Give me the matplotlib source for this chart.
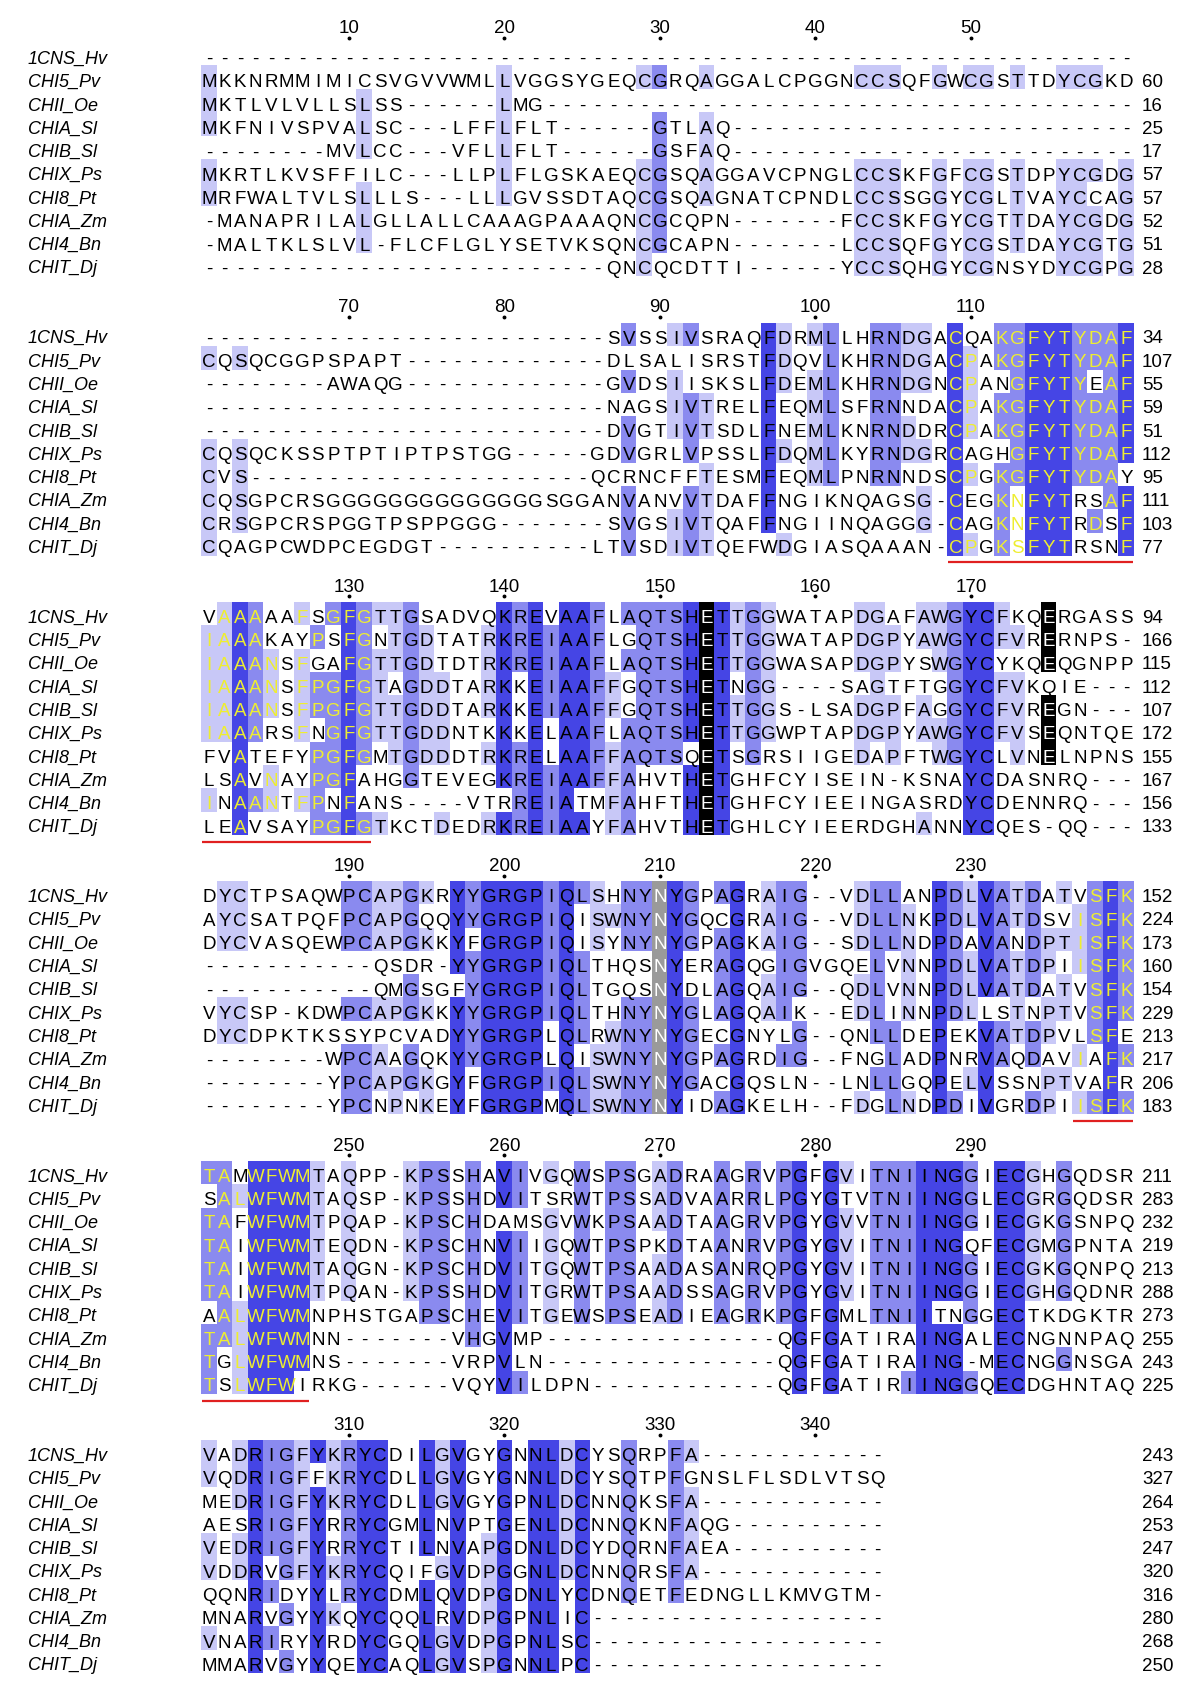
import numpy as np
import matplotlib
matplotlib.use("Agg")
import matplotlib.pyplot as plt
from matplotlib.colors import to_rgb
from matplotlib.transforms import blended_transform_factory

names = ["1CNS_Hv", "CHI5_Pv", "CHII_Oe", "CHIA_Sl", "CHIB_Sl",
         "CHIX_Ps", "CHI8_Pt", "CHIA_Zm", "CHI4_Bn", "CHIT_Dj"]

# alignment, one list per block of 60 columns
block1 = [
    "-" * 60,
    "MKKNRMMIMICSVGVVWMLLVGGSYGEQCGRQAGGALCPGGNCCSQFGWCGSTTDYCGKD",
    "MKTLVLVLLSLSS------LMG" + "-" * 38,
    "MKFNIVSPVALSC---LFFLFLT------GTLAQ" + "-" * 26,
    "--------MVLCC---VFLLFLT------GSFAQ" + "-" * 26,
    "MKRTLKVSFFILC---LLPLFLGSKAEQCGSQAGGAVCPNGLCCSKFGFCGSTDPYCGDG",
    "MRFWALTVLSLLLS---LLLGVSSDTAQCGSQAGNATCPNDLCCSSGGYCGLTVAYCCAG",
    "-MANAPRILALGLLALLCAAAGPAAAQNCGCQPN-------FCCSKFGYCGTTDAYCGDG",
    "-MALTKLSLVL-FLCFLGLYSETVKSQNCGCAPN-------LCCSQFGYCGSTDAYCGTG",
    "-" * 26 + "QNCQCDTTI------YCCSQHGYCGNSYDYCGPG",
]
block2 = [
    "-" * 26 + "SVSSIVSRAQFDRMLLHRNDGACQAKGFYTYDAF",
    "CQSQCGGPSPAPT" + "-" * 13 + "DLSALISRSTFDQVLKHRNDGACPAKGFYTYDAF",
    "-" * 8 + "AWAQG" + "-" * 13 + "GVDSIISKSLFDEMLKHRNDGNCPANGFYTYEAF",
    "-" * 26 + "NAGSIVTRELFEQMLSFRNNDACPAKGFYTYDAF",
    "-" * 26 + "DVGTIVTSDLFNEMLKNRNDDRCPAKGFYTYDAF",
    "CQSQCKSSPTPTIPTPSTGG-----GDVGRLVPSSLFDQMLKYRNDGRCAGHGFYTYDAF",
    "CVS" + "-" * 22 + "QCRNCFFTESMFEQMLPNRNNDSCPGKGFYTYDAY",
    "CQSGPCRS" + "G" * 14 + "SGGANVANVVTDAFFNGIKNQAGSG-CEGKNFYTRSAF",
    "CRSGPCRSPGGTPSPPGGG-------SVGSIVTQAFFNGIINQAGGG-CAGKNFYTRDSF",
    "CQAGPCWDPCEGDGT----------LTVSDIVTQEFWDGIASQAAAN-CPGKSFYTRSNF",
]
block3 = [
    "VAAAAAFSGFGTTGSADVQKREVAAFLAQTSHETTGGWATAPDGAFAWGYCFKQERGASS",
    "IAAAKAYPSFGNTGDTATRKREIAAFLGQTSHETTGGWATAPDGPYAWGYCFVRERNPS-",
    "IAAANSFGAFGTTGDTDTRKREIAAFLAQTSHETTGGWASAPDGPYSWGYCYKQEQGNPP",
    "IAAANSFPGFGTAGDDTARKKEIAAFFGQTSHETNGG----SAGTFTGGYCFVKQIE---",
    "IAAANSFPGFGTTGDDTARKKEIAAFFGQTSHETTGGS-LSADGPFAGGYCFVREGN---",
    "IAAARSFNGFGTTGDDNTKKKELAAFLAQTSHETTGGWPTAPDGPYAWGYCFVSEQNTQE",
    "FVATEFYPGFGMTGDDDTRKRELAAFFAQTSQETSGRSIIGEDAPFTWGYCLVNELNPNS",
    "LSAVNAYPGFAHGGTEVEGKREIAAFFAHVTHETGHFCYISEIN-KSNAYCDASNRQ---",
    "INAANTFPNFANS----VTRREIATMFAHFTHETGHFCYIEEINGASRDYCDENNRQ---",
    "LEAVSAYPGFGTKCTDEDRKREIAAYFAHVTHETGHLCYIEERDGHANNYCQES-QQ---",
]
block4 = [
    "DYCTPSAQWPCAPGKRYYGRGPIQLSHNYNYGPAGRAIG--VDLLANPDLVATDATVSFK",
    "AYCSATPQFPCAPGQQYYGRGPIQISWNYNYGQCGRAIG--VDLLNKPDLVATDSVISFK",
    "DYCVASQEWPCAPGKKYFGRGPIQISYNYNYGPAGKAIG--SDLLNDPDAVANDPTISFK",
    "-----------QSDR-YYGRGPIQLTHQSNYERAGQGIGVGQELVNNPDLVATDPIISFK",
    "-----------QMGSGFYGRGPIQLTGQSNYDLAGQAIG--QDLVNNPDLVATDATVSFK",
    "VYCSP-KDWPCAPGKKYYGRGPIQLTHNYNYGLAGQAIK--EDLINNPDLLSTNPTVSFK",
    "DYCDPKTKSSYPCVADYYGRGPLQLRWNYNYGECGNYLG--QNLLDEPEKVATDPVLSFE",
    "--------WPCAAGQKYYGRGPLQISWNYNYGPAGRDIG--FNGLADPNRVAQDAVIAFK",
    "--------YPCAPGKGYFGRGPIQLSWNYNYGACGQSLN--LNLLGQPELVSSNPTVAFR",
    "--------YPCNPNKEYFGRGPMQLSWNYNYIDAGKELH--FDGLNDPDIVGRDPIISFK",
]
block5 = [
    "TAMWFWMTAQPP-KPSSHAVIVGQWSPSGADRAAGRVPGFGVITNIINGGIECGHGQDSR",
    "SALWFWMTAQSP-KPSSHDVITSRWTPSSADVAARRLPGYGTVTNIINGGLECGRGQDSR",
    "TAFWFWMTPQAP-KPSCHDAMSGVWKPSAADTAAGRVPGYGVVTNIINGGIECGKGSNPQ",
    "TAIWFWMTEQDN-KPSCHNVIIGQWTPSPKDTAANRVPGYGVITNIINGQFECGMGPNTA",
    "TAIWFWMTAQGN-KPSCHDVITGQWTPSAADASANRQPGYGVITNIINGGIECGKGQNPQ",
    "TAIWFWMTPQAN-KPSSHDVITGRWTPSAADSSAGRVPGYGVITNIINGGIECGHGQDNR",
    "AALWFWMNPHSTGAPSCHEVITGEWSPSEADIEAGRKPGFGMLTNIITNGGECTKDGKTR",
    "TALWFWMNN-------VHGVMP---------------QGFGATIRAINGALECNGNNPAQ",
    "TGLWFWMNS-------VRPVLN---------------QGFGATIRAING-MECNGGNSGA",
    "TSLWFWIRKG------VQYVILDPN------------QGFGATIRIINGGQECDGHNTAQ",
]
block6 = [
    "VADRIGFYKRYCDILGVGYGNNLDCYSQRPFA" + "-" * 12,
    "VQDRIGFFKRYCDLLGVGYGNNLDCYSQTPFGNSLFLSDLVTSQ",
    "MEDRIGFYKRYCDLLGVGYGPNLDCNNQKSFA" + "-" * 12,
    "AESRIGFYRRYCGMLNVPTGENLDCNNQKNFAQG" + "-" * 10,
    "VEDRIGFYRRYCTILNVAPGDNLDCYDQRNFAEA" + "-" * 10,
    "VDDRVGFYKRYCQIFGVDPGGNLDCNNQRSFA" + "-" * 12,
    "QQNRIDYYLRYCDMLQVDPGDNLYCDNQETFEDNGLLKMVGTM-",
    "MNARVGYYKQYCQQLRVDPGPNLIC" + "-" * 19,
    "VNARIRYYRDYCGQLGVDPGPNLSC" + "-" * 19,
    "MMARVGYYQEYCAQLGVSPGNNLPC" + "-" * 19,
]
blocks = [block1, block2, block3, block4, block5, block6]

# motif residues printed in yellow (first column, allowed residues per column)
motif_start = [109, 121, 237, 241]
motif_res = [
    ["C", "P", "", "K", "GNS", "F", "Y", "T", "Y", "D", "A", "F"],
    ["I", "A", "A", "A", "N", "", "F", "P", "G", "F", "G"],
    ["I", "S", "F", "K"],
    ["T", "A", "L", "W", "F", "W", "M"],
]
black_cols = [153, 175]   # boxed E
grey_cols = [210]         # boxed N

shade = {3: "#4545E5", 2: "#8A8AEF", 1: "#C8C8F7"}
yellow = "#EEEE30"

seqs = ["".join(b[i] for b in blocks) for i in range(len(names))]
nseq = len(seqs)
ncols_total = len(seqs[0])

# percentage identity to the column consensus
cons = []
level = []
for c in range(ncols_total):
    col = [s[c] for s in seqs]
    counts = {}
    for ch in col:
        if ch != "-":
            counts[ch] = counts.get(ch, 0) + 1
    if not counts:
        cons.append(None); level.append(0); continue
    top = max(counts.values())
    win = [k for k, v in counts.items() if v == top]
    if len(win) > 1:
        cons.append(None); level.append(0); continue
    frac = top / nseq
    cons.append(win[0])
    level.append(3 if frac > 0.8 else 2 if frac > 0.6 else 1 if frac > 0.4 else 0)

yellow_set = set()
for st, allowed in zip(motif_start, motif_res):
    for k, a in enumerate(allowed):
        for i, s in enumerate(seqs):
            ch = s[st - 1 + k]
            if ch != "-" and a and ch in a:
                yellow_set.add((i, st + k))

W, H = 1200, 1699
fig = plt.figure(figsize=(W / 100, H / 100), dpi=100)
fig.patch.set_facecolor("white")

col_w = 15.55
row_h = 23.3
left_px = 201.2
block_pitch = 279.4
top0 = 44.15

fs_res = 13.5
fs_name = 13
fs_num = 13.5

counts_so_far = [0] * nseq
start = 1
for b, blk in enumerate(blocks):
    ncol = len(blk[0])
    top_px = top0 + b * block_pitch
    ax = fig.add_axes([left_px / W, 1 - (top_px + 10 * row_h) / H,
                       60 * col_w / W, 10 * row_h / H])
    ax.set_xlim(0.5, 60.5)
    ax.set_ylim(10.5, 0.5)
    ax.axis("off")

    img = np.ones((nseq, ncol, 3))
    txtcol = [["black"] * ncol for _ in range(nseq)]
    for i in range(nseq):
        for j in range(ncol):
            c = start + j
            ch = blk[i][j]
            if ch == "-":
                continue
            if c in black_cols and ch == "E":
                img[i, j] = 0, 0, 0
                txtcol[i][j] = "white"
            elif c in grey_cols and ch == "N":
                img[i, j] = to_rgb("#9A9A9A")
                txtcol[i][j] = "white"
            elif cons[c - 1] == ch and level[c - 1] > 0:
                img[i, j] = to_rgb(shade[level[c - 1]])
            if (i, c) in yellow_set:
                txtcol[i][j] = yellow
    ax.imshow(img, extent=(0.5, ncol + 0.5, nseq + 0.5, 0.5),
              aspect="auto", interpolation="nearest")

    for i in range(nseq):
        for j in range(ncol):
            ax.text(j + 1, i + 1 + 0.36, blk[i][j], ha="center", va="baseline",
                    fontsize=fs_res, family="Liberation Sans",
                    color=txtcol[i][j], clip_on=False)

    trans = blended_transform_factory(fig.transFigure, ax.transData)
    for i in range(nseq):
        ax.text(28 / W, i + 1 + 0.34, names[i], ha="left", va="baseline",
                fontsize=fs_name, family="Liberation Sans", style="italic",
                transform=trans, clip_on=False)
        n = sum(1 for ch in blk[i] if ch != "-")
        counts_so_far[i] += n
        if n > 0:
            ax.text(1142 / W, i + 1 + 0.35, str(counts_so_far[i]), ha="left",
                    va="baseline", fontsize=fs_num, family="Liberation Sans",
                    transform=trans, clip_on=False)

    # column ruler
    for j in range(ncol - 1):
        c = start + j
        if c % 10 == 0:
            ax.text(j + 1, 0.02, str(c), ha="center", va="baseline",
                    fontsize=fs_num, family="Liberation Sans", clip_on=False)
            ax.plot([j + 1], [0.26], marker="o", ms=1.8, color="black",
                    clip_on=False)

    # motif underlines
    for st, allowed in zip(motif_start, motif_res):
        en = st + len(allowed) - 1
        if st >= start and en < start + ncol:
            ax.plot([st - start + 0.55, en - start + 1.45], [nseq + 0.79] * 2,
                    color="#E02020", lw=1.6, solid_capstyle="butt",
                    clip_on=False)
    start += ncol

fig.savefig("out.png", dpi=100, facecolor="white")
